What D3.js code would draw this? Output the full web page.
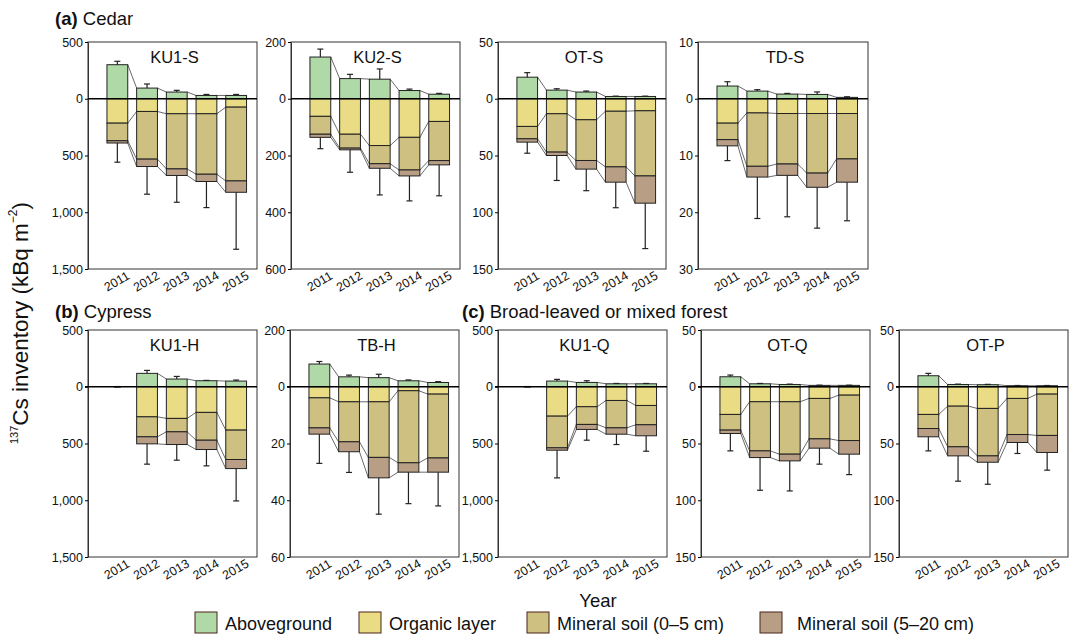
<!DOCTYPE html>
<html>
<head>
<meta charset="utf-8">
<script src="https://cdn.jsdelivr.net/npm/d3@7"></script>
<style>
  body { margin: 0; background: #fff; }
  svg { font-family: "Liberation Sans", Arial, sans-serif; }
</style>
</head>
<body>
<script>
// categories
const years = ["2011", "2012", "2013", "2014", "2015"];
const layers = ["Aboveground", "Organic layer", "Mineral soil (0\u20135 cm)", "Mineral soil (5\u201320 cm)"];
const sites = ["KU1-S", "KU2-S", "OT-S", "TD-S", "KU1-H", "TB-H", "KU1-Q", "OT-Q", "OT-P"];

// y range per site (kBq m-2), top above ground and depth below
const yTop    = [500, 200, 50, 10, 500, 20, 500, 50, 50];
const yBottom = [1500, 600, 150, 30, 1500, 60, 1500, 150, 150];
const yTickLabels = [
  ["500", "0", "500", "1,000", "1,500"],
  ["200", "0", "200", "400", "600"],
  ["50", "0", "50", "100", "150"],
  ["10", "0", "10", "20", "30"],
  ["500", "0", "500", "1,000", "1,500"],
  ["200", "0", "20", "40", "60"],
  ["500", "0", "500", "1,000", "1,500"],
  ["50", "0", "50", "100", "150"],
  ["50", "0", "50", "100", "150"]
];

// series values, one row per site, one value per year (null = no data)
const aboveground = [
  [300, 94, 59, 29, 29],
  [147, 71, 69, 29, 16],
  [19, 7.6, 5.9, 2, 2],
  [2.24, 1.35, 0.82, 0.76, 0.24],
  [null, 118, 68, 53, 50],
  [8.0, 3.5, 3.2, 2.1, 1.5],
  [null, 50, 38, 26, 26],
  [8.8, 2.6, 2, 1.2, 1.2],
  [9.7, 2, 1.8, 0.9, 0.9]
];
const abovegroundErr = [
  [30, 36, 15, 9, 9],
  [28, 15, 36, 5, 3],
  [4, 1.2, 0.9, 0.3, 0.3],
  [0.76, 0.25, 0.12, 0.44, 0.11],
  [null, 26, 23, 3, 9],
  [0.9, 0.6, 1.2, 0.3, 0.3],
  [null, 15, 15, 3, 3],
  [1.5, 0.3, 0.3, 0.2, 0.2],
  [2.1, 0.3, 0.3, 0.2, 0.2]
];
const organic = [
  [215, 112, 132, 132, 74],
  [62, 125, 165, 136, 80],
  [24.4, 13.2, 18.5, 11, 10.6],
  [4.3, 2.5, 2.6, 2.6, 2.6],
  [null, 265, 279, 226, 382],
  [3.9, 5.3, 5.3, 1.4, 2.6],
  [null, 259, 176, 121, 165],
  [24.4, 13.2, 13.2, 10.3, 7.4],
  [24.4, 17.1, 19.1, 10.3, 6.5]
];
const mineral05 = [
  [155, 420, 486, 533, 650],
  [63, 49, 64, 115, 138],
  [10.9, 33.8, 35.9, 49, 57.4],
  [2.9, 9.4, 8.9, 10.5, 8.0],
  [null, 176, 118, 245, 259],
  [10.6, 14.1, 19.6, 25.4, 22.5],
  [null, 279, 156, 241, 170],
  [13.8, 43.3, 46.2, 35.6, 40],
  [12.4, 35.8, 41.8, 31.8, 36.4]
];
const mineral520 = [
  [20, 65, 58, 64, 100],
  [11, 6, 16, 21, 15],
  [2.9, 3, 7.6, 13.5, 24],
  [1.1, 1.9, 2.0, 2.5, 4.1],
  [null, 62, 112, 82, 80],
  [2.2, 3.5, 7.2, 3.3, 5.0],
  [null, 21, 44, 56, 97],
  [3, 5.9, 5.9, 8.2, 12],
  [7.3, 8, 5.6, 7, 15]
];
const soilErr = [
  [169, 244, 236, 230, 502],
  [40, 79, 94, 88, 109],
  [9.8, 22, 19, 22.5, 40],
  [2.6, 7.3, 7.3, 7.2, 6.8],
  [null, 179, 138, 144, 285],
  [10.3, 7.3, 12.8, 11.1, 11.9],
  [null, 244, 95, 91, 136],
  [15.3, 28.8, 26.5, 14.1, 18],
  [12.4, 22.3, 19.4, 9.7, 15.6]
];

const colors = ["#b0d9a8", "#e9dc85", "#cdc080", "#b89e85"];

// panel boxes on the page
const panels = [
  { x0: 88,  x1: 257,  y0: 42,  y1: 269 },
  { x0: 291, x1: 460,  y0: 42,  y1: 269 },
  { x0: 498, x1: 666,  y0: 42,  y1: 269 },
  { x0: 698, x1: 868,  y0: 42,  y1: 269 },
  { x0: 88,  x1: 257,  y0: 330, y1: 557 },
  { x0: 290, x1: 459,  y0: 330, y1: 557 },
  { x0: 498, x1: 667,  y0: 330, y1: 557 },
  { x0: 701, x1: 870,  y0: 330, y1: 557 },
  { x0: 899, x1: 1068, y0: 330, y1: 557 }
];

const svg = d3.select("body").append("svg")
  .attr("width", 1078)
  .attr("height", 635);

// group headings
const heads = [
  { x: 55, y: 25, b: "(a)", t: " Cedar" },
  { x: 55, y: 318, b: "(b)", t: " Cypress" },
  { x: 462, y: 318, b: "(c)", t: " Broad-leaved or mixed forest" }
];
heads.forEach(h => {
  const t = svg.append("text").attr("x", h.x).attr("y", h.y).attr("font-size", 18.5).attr("fill", "#111");
  t.append("tspan").attr("font-weight", "bold").text(h.b);
  t.append("tspan").text(h.t);
});

sites.forEach((site, i) => {
  const p = panels[i];
  const g = svg.append("g");

  const y = d3.scaleLinear()
    .domain([yTop[i], -yBottom[i]])
    .range([p.y0, p.y1]);
  const x = d3.scaleBand()
    .domain(years)
    .range([p.x0 + 14.5, p.x1 - 6])
    .paddingInner(0.3)
    .paddingOuter(0.15);
  const bw = x.bandwidth();

  // frame
  g.append("rect")
    .attr("x", p.x0).attr("y", p.y0)
    .attr("width", p.x1 - p.x0).attr("height", p.y1 - p.y0)
    .attr("fill", "none").attr("stroke", "#333").attr("stroke-width", 1);

  // y axis
  const tickVals = d3.range(5).map(k => yTop[i] - k * (yTop[i] + yBottom[i]) / 4);
  const ax = g.append("g")
    .attr("transform", "translate(" + p.x0 + ",0)")
    .call(d3.axisLeft(y).tickValues(tickVals).tickFormat((d, k) => yTickLabels[i][k]).tickSize(3).tickSizeOuter(0).tickPadding(2));
  ax.select(".domain").attr("stroke", "#333");
  ax.selectAll("text").attr("font-size", 12.5).attr("fill", "#111").attr("font-family", "Liberation Sans, Arial, sans-serif");

  // stack boundaries per year
  const stacks = years.map((yr, j) => {
    if (aboveground[i][j] == null) return null;
    const b1 = -organic[i][j];
    const b2 = b1 - mineral05[i][j];
    const b3 = b2 - mineral520[i][j];
    return { yr: yr, top: aboveground[i][j], b1: b1, b2: b2, b3: b3,
             eUp: aboveground[i][j] + abovegroundErr[i][j], eDown: b3 - soilErr[i][j] };
  });

  // connecting lines between neighbouring bars
  stacks.forEach((s, j) => {
    const n = stacks[j + 1];
    if (!s || !n) return;
    ["top", "b1", "b2", "b3"].forEach(k => {
      g.append("line")
        .attr("x1", x(s.yr) + bw).attr("y1", y(s[k]))
        .attr("x2", x(n.yr)).attr("y2", y(n[k]))
        .attr("stroke", "#444").attr("stroke-width", 0.8);
    });
  });

  // bars
  stacks.forEach(s => {
    if (!s) return;
    const segs = [[s.top, 0], [0, s.b1], [s.b1, s.b2], [s.b2, s.b3]];
    segs.forEach((sg, k) => {
      g.append("rect")
        .attr("x", x(s.yr)).attr("y", y(sg[0]))
        .attr("width", bw).attr("height", Math.max(0, y(sg[1]) - y(sg[0])))
        .attr("fill", colors[k])
        .attr("stroke", "#222").attr("stroke-width", 1);
    });
  });

  // zero line
  g.append("line")
    .attr("x1", p.x0 - (p.y0 > 100 ? 3 : 0)).attr("x2", p.x1)
    .attr("y1", y(0)).attr("y2", y(0))
    .attr("stroke", "#000").attr("stroke-width", 1.4);

  // missing years: short dash at zero
  years.forEach((yr, j) => {
    if (stacks[j]) return;
    const cx = x(yr) + bw / 2;
    g.append("line")
      .attr("x1", cx - 3.5).attr("x2", cx + 3.5)
      .attr("y1", y(0)).attr("y2", y(0))
      .attr("stroke", "#000").attr("stroke-width", 1.6);
  });

  // error bars
  stacks.forEach(s => {
    if (!s) return;
    const cx = x(s.yr) + bw / 2;
    [[s.top, s.eUp], [s.b3, s.eDown]].forEach(e => {
      g.append("line")
        .attr("x1", cx).attr("x2", cx)
        .attr("y1", y(e[0])).attr("y2", y(e[1]))
        .attr("stroke", "#222").attr("stroke-width", 1.2);
      g.append("line")
        .attr("x1", cx - 3).attr("x2", cx + 3)
        .attr("y1", y(e[1])).attr("y2", y(e[1]))
        .attr("stroke", "#222").attr("stroke-width", 1.2);
    });
  });

  // site title
  g.append("text")
    .attr("x", (p.x0 + p.x1) / 2 + 2).attr("y", p.y0 + 21)
    .attr("text-anchor", "middle").attr("font-size", 16.5).attr("fill", "#111")
    .text(site);

  // year labels
  years.forEach(yr => {
    const cx = x(yr) + bw / 2 + 1.5;
    const ty = p.y1 + 16;
    g.append("text")
      .attr("x", cx).attr("y", ty)
      .attr("transform", "rotate(-30," + cx + "," + ty + ")")
      .attr("text-anchor", "middle").attr("font-size", 12.5).attr("fill", "#111")
      .text(yr);
  });
});

// axis titles
svg.append("text")
  .attr("x", 598).attr("y", 607)
  .attr("text-anchor", "middle").attr("font-size", 18.5).attr("fill", "#111")
  .text("Year");

const yl = svg.append("text")
  .attr("transform", "translate(28,323) rotate(-90)")
  .attr("text-anchor", "middle").attr("font-size", 22.5).attr("fill", "#111");
yl.append("tspan").attr("font-size", 11).attr("dy", -10).text("137");
yl.append("tspan").attr("dy", 10).text("Cs inventory (kBq m");
yl.append("tspan").attr("font-size", 12).attr("dy", -11).text("\u22122");
yl.append("tspan").attr("dy", 11).text(")");

// legend
const legendX = [195, 359, 527, 760];
layers.forEach((name, k) => {
  svg.append("rect")
    .attr("x", legendX[k]).attr("y", 612)
    .attr("width", 22).attr("height", 21)
    .attr("fill", colors[k])
    .attr("stroke", "#4a2418").attr("stroke-width", 1);
  svg.append("text")
    .attr("x", legendX[k] + 30 + (k == 3 ? 7 : 0)).attr("y", 630)
    .attr("font-size", 18).attr("fill", "#111")
    .text(name);
});
</script>
</body>
</html>
